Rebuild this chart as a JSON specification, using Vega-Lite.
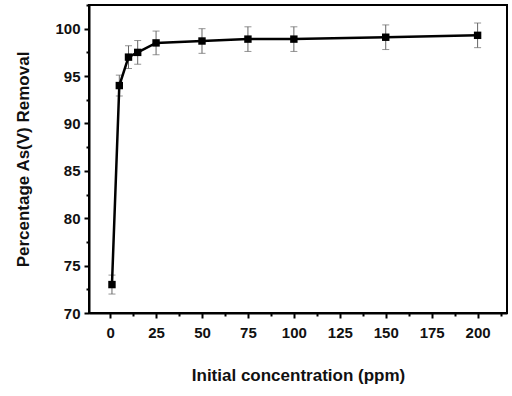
{
  "$schema": "https://vega.github.io/schema/vega-lite/v6.json",
  "width": 418,
  "height": 308,
  "autosize": {"type": "none"},
  "padding": {"left": 89, "top": 5, "right": 5, "bottom": 83},
  "background": "white",
  "config": {
    "view": {"stroke": "black", "strokeWidth": 2},
    "axis": {"grid": false, "domainColor": "black", "domainWidth": 2, "tickColor": "black", "tickWidth": 2,
      "labelFont": "Liberation Sans", "labelFontWeight": "bold", "labelFontSize": 15, "labelColor": "#111111",
      "titleFont": "Liberation Sans", "titleFontWeight": "bold", "titleFontSize": 17, "titleColor": "#111111"}
  },
  "data": {"values": [
    {"conc": 1, "removal": 73.0, "lo": 72.0, "hi": 74.0},
    {"conc": 5, "removal": 94.0, "lo": 92.9, "hi": 95.1},
    {"conc": 10, "removal": 97.0, "lo": 95.8, "hi": 98.2},
    {"conc": 15, "removal": 97.5, "lo": 96.25, "hi": 98.75},
    {"conc": 25, "removal": 98.5, "lo": 97.25, "hi": 99.75},
    {"conc": 50, "removal": 98.7, "lo": 97.4, "hi": 100.0},
    {"conc": 75, "removal": 98.9, "lo": 97.6, "hi": 100.2},
    {"conc": 100, "removal": 98.9, "lo": 97.6, "hi": 100.2},
    {"conc": 150, "removal": 99.1, "lo": 97.8, "hi": 100.4},
    {"conc": 200, "removal": 99.3, "lo": 98.0, "hi": 100.6}
  ]},
  "layer": [
    {
      "mark": {"type": "rule", "color": "#666666", "strokeWidth": 1},
      "encoding": {
        "x": {"field": "conc", "type": "quantitative", "scale": {"domain": [-11.5, 216], "nice": false, "zero": false},
          "axis": {"orient": "bottom", "values": [0, 25, 50, 75, 100, 125, 150, 175, 200], "tickSize": 5, "labelPadding": 7,
            "title": "Initial concentration (ppm)", "titlePadding": 27}},
        "y": {"field": "lo", "type": "quantitative", "scale": {"domain": [70, 102.5], "nice": false, "zero": false},
          "axis": {"orient": "left", "values": [70, 75, 80, 85, 90, 95, 100], "tickSize": 5, "labelPadding": 4,
            "title": "Percentage As(V) Removal", "titlePadding": 22}},
        "y2": {"field": "hi"}
      }
    },
    {
      "mark": {"type": "tick", "color": "#666666", "thickness": 1, "size": 7, "orient": "horizontal"},
      "encoding": {
        "x": {"field": "conc", "type": "quantitative", "axis": null},
        "y": {"field": "lo", "type": "quantitative", "axis": null}
      }
    },
    {
      "mark": {"type": "tick", "color": "#666666", "thickness": 1, "size": 7, "orient": "horizontal"},
      "encoding": {
        "x": {"field": "conc", "type": "quantitative", "axis": null},
        "y": {"field": "hi", "type": "quantitative", "axis": null}
      }
    },
    {
      "mark": {"type": "line", "color": "black", "strokeWidth": 2.5},
      "encoding": {
        "x": {"field": "conc", "type": "quantitative", "axis": null},
        "y": {"field": "removal", "type": "quantitative", "axis": null}
      }
    },
    {
      "mark": {"type": "square", "color": "black", "opacity": 1, "size": 55, "filled": true},
      "encoding": {
        "x": {"field": "conc", "type": "quantitative",
          "axis": {"orient": "bottom", "values": [12.5, 37.5, 62.5, 87.5, 112.5, 137.5, 162.5, 187.5, 212.5], "tickSize": 3, "labels": false, "domain": false, "title": null}},
        "y": {"field": "removal", "type": "quantitative",
          "axis": {"orient": "left", "values": [72.5, 77.5, 82.5, 87.5, 92.5, 97.5, 102.5], "tickSize": 3, "labels": false, "domain": false, "title": null}}
      }
    }
  ],
  "resolve": {"axis": {"x": "independent", "y": "independent"}}
}
